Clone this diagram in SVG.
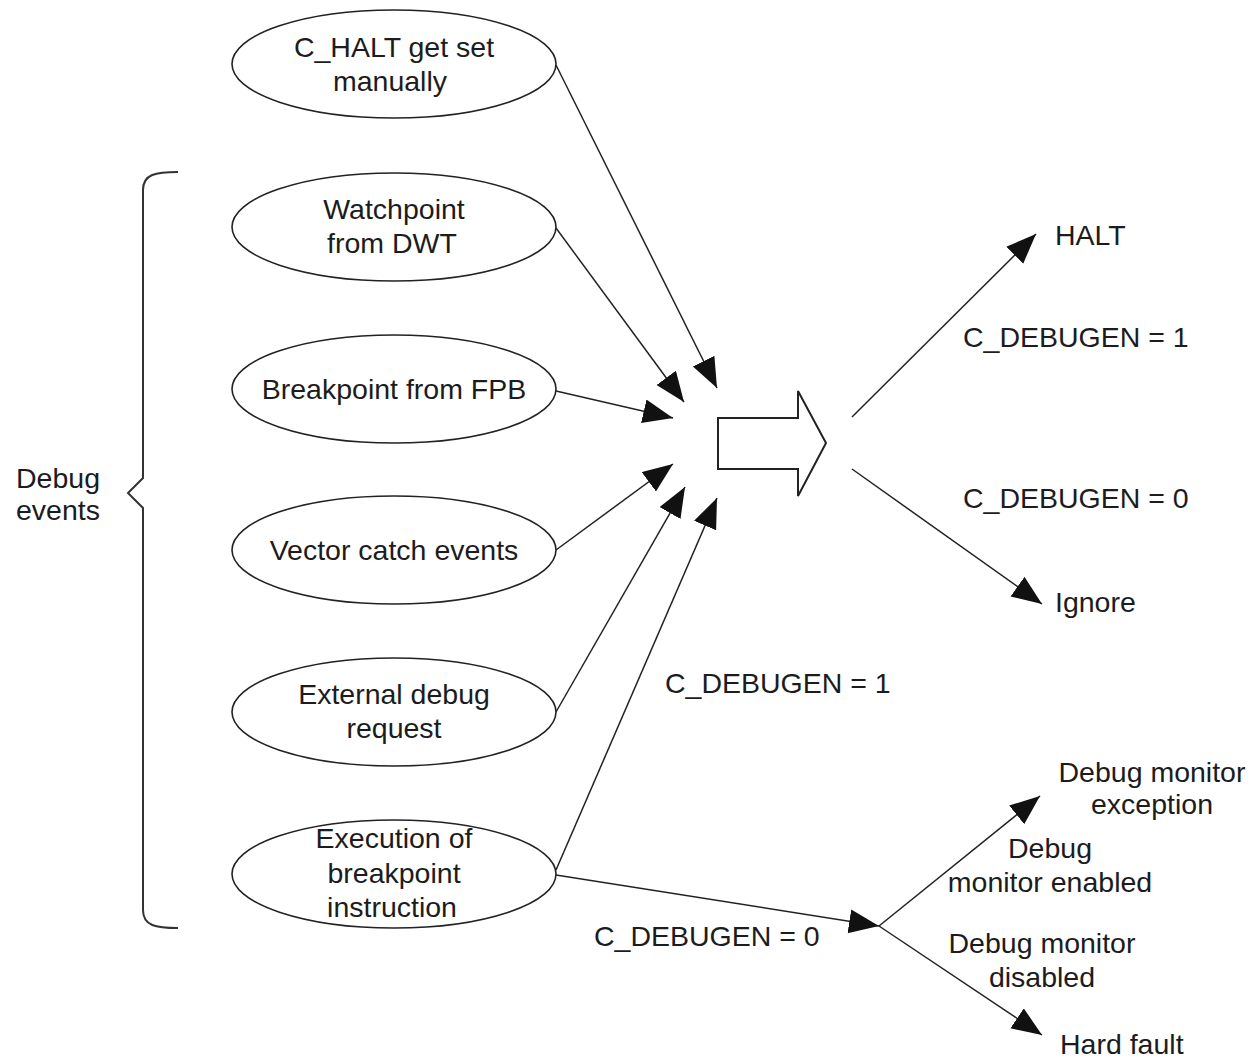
<svg xmlns="http://www.w3.org/2000/svg" width="1254" height="1059" viewBox="0 0 1254 1059">
  <defs>
    <marker id="arrow" markerUnits="userSpaceOnUse" markerWidth="32" markerHeight="26" refX="30" refY="12" orient="auto">
      <path d="M0,0 L30,12 L0,24 z" fill="#111"/>
    </marker>
    <style>
      .node ellipse { fill: #fff; stroke: #222; stroke-width: 1.6; }
      text { font-family: "Liberation Sans", Arial, sans-serif; font-size: 28.5px; fill: #1c1c1c; }
      .c { text-anchor: middle; }
      .conn line { stroke: #222; stroke-width: 1.5; fill: none; }
      .arr { marker-end: url(#arrow); }
      .shape { fill: #fff; stroke: #222; stroke-width: 2; }
    </style>
  </defs>
  <rect width="1254" height="1059" fill="#fff"/>

  <!-- connectors -->
  <g id="connectors" class="conn">
    <line class="arr" x1="556" y1="65" x2="717" y2="388"/>
    <line class="arr" x1="556" y1="228" x2="684" y2="402"/>
    <line class="arr" x1="556" y1="391" x2="673" y2="418"/>
    <line class="arr" x1="556" y1="550" x2="673" y2="464"/>
    <line class="arr" x1="556" y1="712" x2="685" y2="487"/>
    <line class="arr" x1="556" y1="870" x2="717" y2="498"/>
    <line class="arr" x1="556" y1="875" x2="879" y2="926"/>
    <line class="arr" x1="852" y1="417" x2="1036" y2="234"/>
    <line class="arr" x1="852" y1="469" x2="1042" y2="604"/>
    <line class="arr" x1="879" y1="926" x2="1040" y2="796"/>
    <line class="arr" x1="879" y1="926" x2="1042" y2="1035"/>
  </g>

  <!-- event nodes -->
  <g id="n-chalt" class="node">
    <ellipse cx="394" cy="64" rx="162" ry="54"/>
    <text class="c" x="394" y="57">C_HALT get set</text>
    <text class="c" x="390" y="91">manually</text>
  </g>
  <g id="n-watchpoint" class="node">
    <ellipse cx="394" cy="227" rx="162" ry="54"/>
    <text class="c" x="394" y="219">Watchpoint</text>
    <text class="c" x="392" y="253">from DWT</text>
  </g>
  <g id="n-breakpoint" class="node">
    <ellipse cx="394" cy="389" rx="162" ry="54"/>
    <text class="c" x="394" y="399">Breakpoint from FPB</text>
  </g>
  <g id="n-vector" class="node">
    <ellipse cx="394" cy="550" rx="162" ry="54"/>
    <text class="c" x="394" y="560">Vector catch events</text>
  </g>
  <g id="n-external" class="node">
    <ellipse cx="394" cy="712" rx="162" ry="54"/>
    <text class="c" x="394" y="704">External debug</text>
    <text class="c" x="394" y="738">request</text>
  </g>
  <g id="n-bkpt" class="node">
    <ellipse cx="394" cy="874" rx="162" ry="54"/>
    <text class="c" x="394" y="848">Execution of</text>
    <text class="c" x="394" y="883">breakpoint</text>
    <text class="c" x="392" y="917">instruction</text>
  </g>

  <!-- brace grouping the debug events -->
  <g id="debug-events">
    <path d="M178,172 C156,172 143,174 143,190 L143,478 L128,493 L143,508 L143,910 C143,926 156,928 178,928" fill="none" stroke="#333" stroke-width="2"/>
    <text x="16" y="488">Debug</text>
    <text x="16" y="520">events</text>
  </g>

  <!-- hollow block arrow -->
  <g id="block-arrow">
    <path class="shape" d="M718,418 L798,418 L798,391 L826,443 L798,496 L798,469 L718,469 z"/>
  </g>

  <!-- outcome labels -->
  <g id="n-halt"><text x="1055" y="245">HALT</text></g>
  <g id="n-ignore"><text x="1055" y="612">Ignore</text></g>
  <g id="n-monitor">
    <text class="c" x="1152" y="782">Debug monitor</text>
    <text class="c" x="1152" y="814">exception</text>
  </g>
  <g id="n-hardfault"><text x="1060" y="1054">Hard fault</text></g>

  <!-- condition labels -->
  <g id="labels">
    <text x="963" y="347">C_DEBUGEN = 1</text>
    <text x="963" y="508">C_DEBUGEN = 0</text>
    <text x="665" y="693">C_DEBUGEN = 1</text>
    <text x="594" y="946">C_DEBUGEN = 0</text>
    <text class="c" x="1050" y="858">Debug</text>
    <text class="c" x="1050" y="892">monitor enabled</text>
    <text class="c" x="1042" y="953">Debug monitor</text>
    <text class="c" x="1042" y="987">disabled</text>
  </g>
</svg>
